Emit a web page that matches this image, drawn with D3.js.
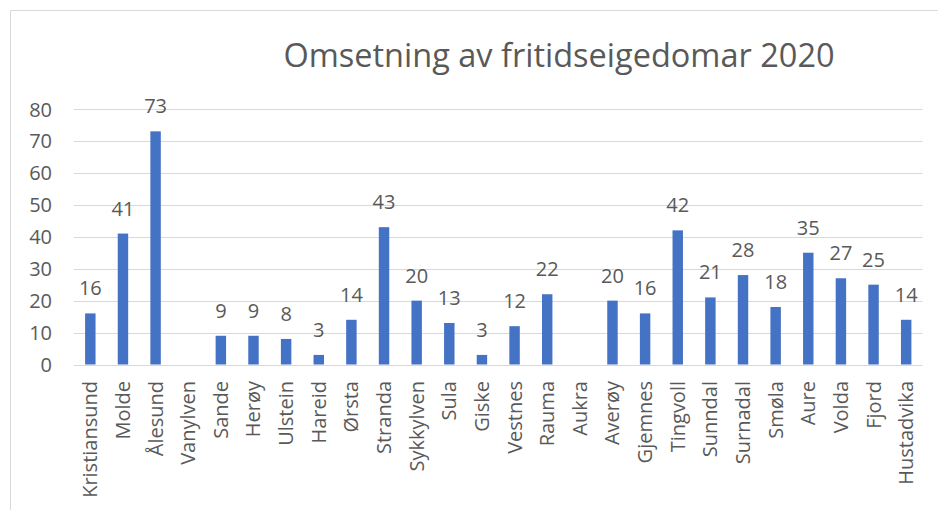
<!DOCTYPE html>
<html><head><meta charset="utf-8">
<script src="https://cdn.jsdelivr.net/npm/d3@7"></script>
<style>body{margin:0;background:#fff;} svg{display:block;}</style>
</head><body>
<script>
const categories = ["Kristiansund","Molde","Ålesund","Vanylven","Sande","Herøy","Ulstein","Hareid","Ørsta","Stranda","Sykkylven","Sula","Giske","Vestnes","Rauma","Aukra","Averøy","Gjemnes","Tingvoll","Sunndal","Surnadal","Smøla","Aure","Volda","Fjord","Hustadvika"];
const values = [16,41,73,null,9,9,8,3,14,43,20,13,3,12,22,null,20,16,42,21,28,18,35,27,25,14];
const yTicks = [0,10,20,30,40,50,60,70,80];
const title = "Omsetning av fritidseigedomar 2020";

const W = 938, H = 510;
const font = "'Open Sans', sans-serif";
const txt = "#595959";
const svg = d3.select("body").append("svg").attr("width", W).attr("height", H);

// chart border (partially cropped)
svg.append("path").attr("d", `M10.5,${H} L10.5,10.5 L${W},10.5`).attr("fill","none").attr("stroke","#d9d9d9").attr("stroke-width",1);

svg.append("text").attr("x", 559).attr("y", 67).attr("text-anchor","middle")
  .attr("font-family", font).attr("font-size", 32.5).attr("fill", txt).text(title);

const x = d3.scaleBand().domain(categories).range([74, 922.5]).paddingInner(0.68).paddingOuter(0.34);
const y = d3.scaleLinear().domain([0, 80]).range([364.5, 109]);

const g = svg.append("g");
g.selectAll("line.grid").data(yTicks).join("line").attr("class","grid")
  .attr("x1", 74).attr("x2", 922.5).attr("y1", d => Math.round(y(d))+0.5).attr("y2", d => Math.round(y(d))+0.5)
  .attr("stroke", "#d9d9d9").attr("stroke-width", 1);

const yAxis = d3.axisLeft(y).tickValues(yTicks).tickSize(0).tickPadding(0);
svg.append("g").attr("transform","translate(52,0)").call(yAxis)
  .call(s => s.select(".domain").remove())
  .selectAll("text").attr("font-family", font).attr("font-size", 20).attr("fill", txt).attr("dy","0.35em");

const data = categories.map((c,i) => ({c, v: values[i]}));
g.selectAll("rect.bar").data(data.filter(d => d.v != null)).join("rect").attr("class","bar")
  .attr("x", d => x(d.c)).attr("width", x.bandwidth())
  .attr("y", d => y(d.v)).attr("height", d => y(0) - y(d.v)).attr("fill", "#4472C4");

g.selectAll("text.lbl").data(data.filter(d => d.v != null)).join("text").attr("class","lbl")
  .attr("x", d => x(d.c) + x.bandwidth()/2).attr("y", d => y(d.v) - 18)
  .attr("text-anchor","middle").attr("font-family", font).attr("font-size", 20).attr("fill", txt).text(d => d.v);

const xAxis = d3.axisBottom(x).tickSize(0).tickPadding(0);
svg.append("g").attr("transform", "translate(0,381)").call(xAxis)
  .call(s => s.select(".domain").remove())
  .selectAll("text").attr("font-family", font).attr("font-size", 20).attr("fill", txt)
  .attr("transform","rotate(-90)").attr("text-anchor","end").attr("x", 0).attr("y", 0).attr("dy","0.35em");
</script>
</body></html>
